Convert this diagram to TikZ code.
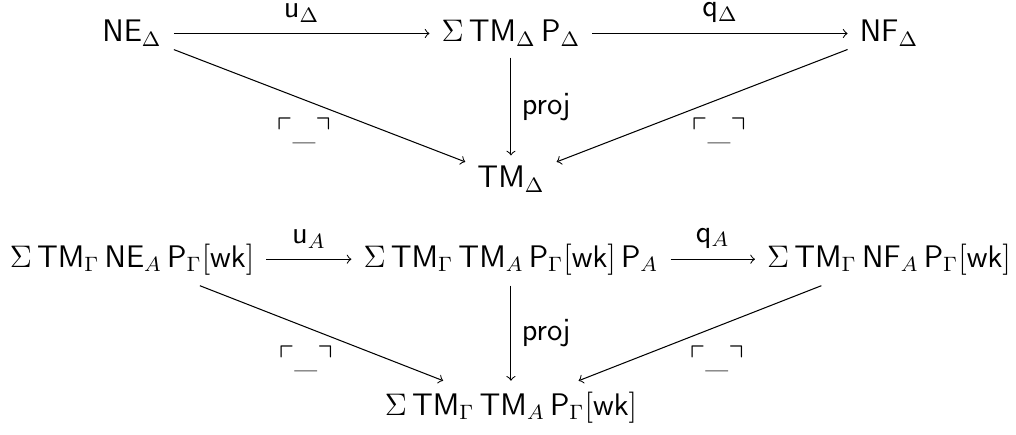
\documentclass[12pt,tikz,border=0pt]{standalone}
\usepackage{amsmath,amssymb}
\tikzset{>=to}
\tikzstyle{obj}=[anchor=base, inner xsep=4.5pt, inner ysep=4pt]
\tikzstyle{map}=[->]
\tikzstyle{lab}=[above=3pt, inner sep=1pt]
\tikzstyle{side}=[right=3pt, inner sep=1pt]
\tikzstyle{quo}=[anchor=north, inner sep=1pt, yshift=-3.6pt]
\newcommand{\quot}{\ulcorner\_\urcorner}

\begin{document}
\begin{tikzpicture}
    \useasboundingbox (0,0) rectangle (13.744,5.871);
    % Upper triangle pair, over the context Delta
    \node[obj] (ne) at (1.786,5.303) {$\mathsf{NE}_\Delta$};
    \node[obj] (sig) at (6.912,5.303) {$\Sigma\,\mathsf{TM}_\Delta\,\mathsf{P}_\Delta$};
    \node[obj] (nf) at (12.026,5.303) {$\mathsf{NF}_\Delta$};
    \node[obj] (tm) at (6.912,3.328) {$\mathsf{TM}_\Delta$};

    \draw[map] (ne) -- node[lab] {$\mathsf{u}_\Delta$} (sig);
    \draw[map] (sig) -- node[lab] {$\mathsf{q}_\Delta$} (nf);
    \draw[map] (sig) -- node[side] {$\mathsf{proj}$} (tm);
    \draw[map] (ne) -- node[quo, xshift=-6pt] {$\quot$} (tm);
    \draw[map] (nf) -- node[quo, xshift=6.5pt] {$\quot$} (tm);

    % Lower triangle pair, weakened over Gamma
    \node[obj] (neA) at (1.786,2.259) {$\Sigma\,\mathsf{TM}_\Gamma\,\mathsf{NE}_A\,\mathsf{P}_\Gamma[\mathsf{wk}]$};
    \node[obj] (sigA) at (6.912,2.259) {$\Sigma\,\mathsf{TM}_\Gamma\,\mathsf{TM}_A\,\mathsf{P}_\Gamma[\mathsf{wk}]\,\mathsf{P}_A$};
    \node[obj] (nfA) at (12.026,2.259) {$\Sigma\,\mathsf{TM}_\Gamma\,\mathsf{NF}_A\,\mathsf{P}_\Gamma[\mathsf{wk}]$};
    \node[obj] (tmA) at (6.912,0.257) {$\Sigma\,\mathsf{TM}_\Gamma\,\mathsf{TM}_A\,\mathsf{P}_\Gamma[\mathsf{wk}]$};

    \draw[map] (neA) -- node[lab] {$\mathsf{u}_A$} (sigA);
    \draw[map] (sigA) -- node[lab] {$\mathsf{q}_A$} (nfA);
    \draw[map] (sigA) -- node[side] {$\mathsf{proj}$} (tmA);
    \draw[map] (neA) -- node[quo, xshift=-6pt] {$\quot$} (tmA);
    \draw[map] (nfA) -- node[quo, xshift=6.5pt] {$\quot$} (tmA);
\end{tikzpicture}
\end{document}
